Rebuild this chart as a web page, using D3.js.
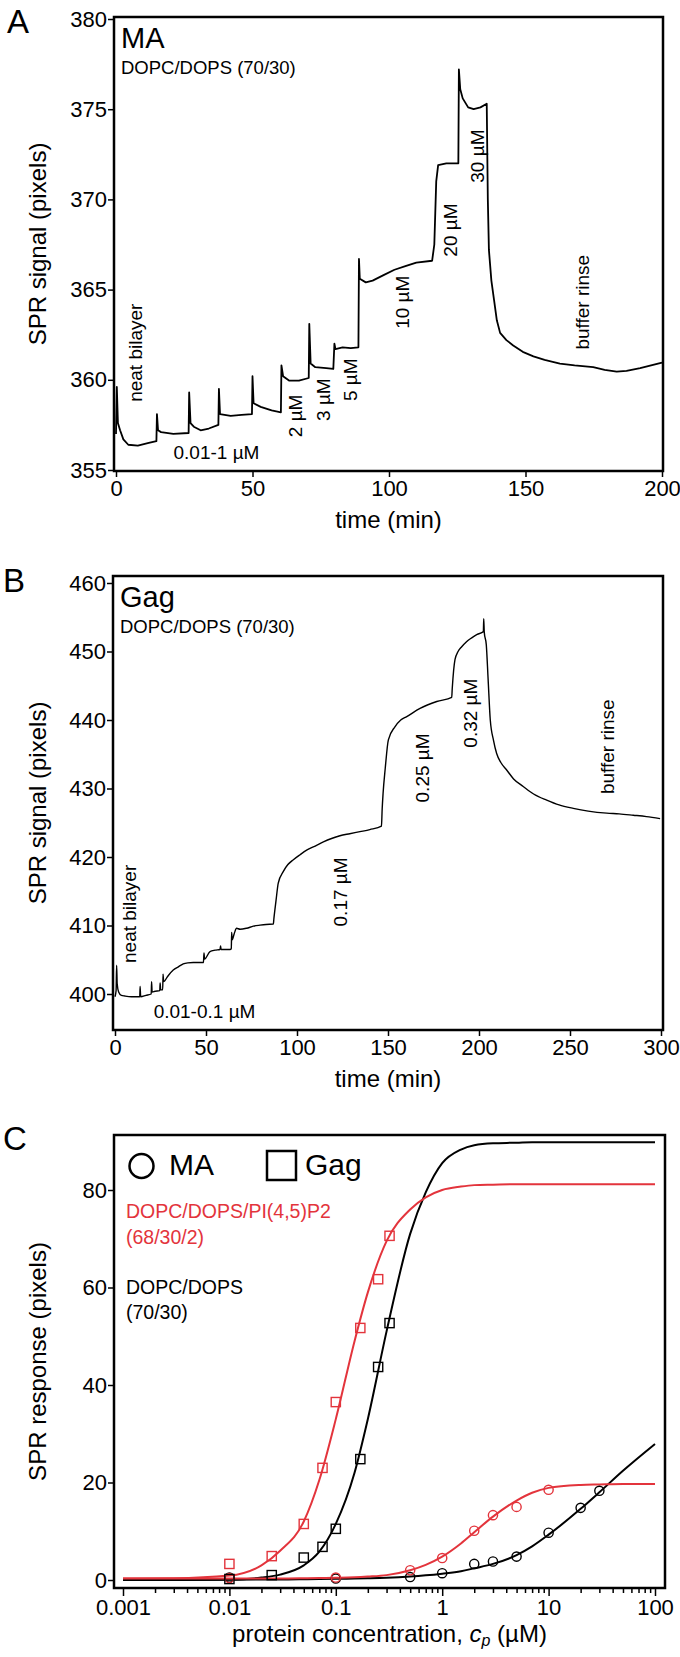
<!DOCTYPE html>
<html>
<head>
<meta charset="utf-8">
<script src="https://cdn.jsdelivr.net/npm/d3@7"></script>
<style>
    body { margin: 0; background: #fff; }
    svg { display: block; font-family: "Liberation Sans", Arial, sans-serif; }
</style>
</head>
<body>
<svg id="chart" width="680" height="1657"></svg>
<script>
// panel A: MA on DOPC/DOPS, SPR trace
const maTime = [0, 0.3, 0.7, 1.5, 2.7, 4.5, 8, 12, 14.8, 15.0, 15.4, 16.5, 21, 26.6, 26.8, 27.3, 28.5, 31, 34, 37.5,
    37.7, 38.1, 42, 46, 49.8, 50.0, 50.4, 53, 57, 60.4, 60.6, 61.2, 63.5, 67, 70.6, 70.8, 71.3, 73, 77, 79.6,
    80.0, 80.4, 83, 86, 88.8, 89.0, 89.3, 91.5, 94, 98, 102, 106, 110, 115.8, 116.6, 117.3, 118, 121, 125.4, 125.6,
    126.1, 127, 129, 131, 133.5, 135.8, 136.2, 136.6, 137.5, 138.5, 139.5, 140.7, 143, 145.5, 149, 152.9, 157, 162.6, 168, 174.8,
    179, 183.4, 187, 192, 196, 200];
const maSignal = [357.0, 359.6, 357.6, 357.2, 356.7, 356.4, 356.35, 356.5, 356.6, 358.1, 357.2, 357.1, 357.0, 357.05, 359.3, 357.6, 357.4, 357.2, 357.3, 357.5,
    359.5, 358.1, 358.0, 358.05, 358.1, 360.2, 358.7, 358.5, 358.3, 358.2, 360.8, 360.2, 359.95, 359.95, 360.1, 363.1, 360.9, 360.7, 360.65, 360.6,
    362.0, 361.7, 361.8, 361.75, 361.8, 366.7, 365.6, 365.4, 365.5, 365.8, 366.1, 366.3, 366.5, 366.6, 367.5, 371.0, 371.9, 372.0, 372.0, 377.2,
    376.1, 375.6, 375.1, 375.0, 375.1, 375.3, 370, 367.2, 365.5, 364.4, 363.3, 362.6, 362.2, 361.9, 361.55, 361.3, 361.1, 360.9, 360.8, 360.7,
    360.55, 360.45, 360.5, 360.65, 360.8, 360.95];
const maTimeTicks = [0, 50, 100, 150, 200];
const maSignalTicks = [355, 360, 365, 370, 375, 380];
const maNotes = [
    {text: 'neat bilayer', t: 7.2, v: 361.5, vertical: true},
    {text: '0.01-1 µM', t: 36.8, v: 355.6, vertical: false},
    {text: '2 µM', t: 65.6, v: 358.0, vertical: true},
    {text: '3 µM', t: 75.8, v: 358.9, vertical: true},
    {text: '5 µM', t: 85.7, v: 360.0, vertical: true},
    {text: '10 µM', t: 104.8, v: 364.3, vertical: true},
    {text: '20 µM', t: 122.3, v: 368.3, vertical: true},
    {text: '30 µM', t: 132.2, v: 372.4, vertical: true},
    {text: 'buffer rinse', t: 170.7, v: 364.3, vertical: true}
];

// panel B: Gag on DOPC/DOPS, SPR trace
const gagTime = [0, 0.6, 0.9, 1.2, 2, 3.5, 5.5, 9, 13.6, 13.8, 14.1, 17, 19.9, 20.1, 20.4, 22, 24.6, 24.8, 25.1, 26.2,
    26.4, 26.7, 29, 32, 35, 37.5, 40, 43, 48.6, 48.9, 49.2, 52.2, 55, 57.7, 58, 58.3, 63.2, 63.9, 64.1, 64.4,
    65.5, 66.8, 68.7, 72.3, 76, 79.7, 83, 87, 87.3, 88.5, 89.7, 92.5, 95, 98, 101.5, 105.3, 110, 114.5, 119, 123.6,
    129, 134.6, 140, 146.4, 146.8, 147.3, 148.5, 150.2, 153.8, 157, 160.3, 167.6, 176.8, 185, 185.3, 186.8, 188.5, 190.5, 193, 196,
    199, 202.4, 202.6, 202.9, 204, 205, 206.2, 208, 209.7, 212, 215.2, 219, 224.3, 230, 237.2, 244, 251.8, 260, 270.2, 277,
    284.8, 292, 299.5];
const gagSignal = [399.6, 400.5, 404.2, 401.5, 400.3, 399.8, 399.7, 399.6, 399.6, 401.1, 399.6, 399.8, 400.0, 401.8, 400.3, 400.4, 400.5, 401.6, 400.6, 400.6,
    402.9, 401.8, 402.6, 403.5, 404.0, 404.4, 404.55, 404.6, 404.6, 406.0, 405.1, 406.2, 406.4, 406.5, 407.0, 406.5, 406.5, 406.6, 409.0, 407.9,
    408.8, 409.6, 409.45, 409.6, 409.9, 410.05, 410.15, 410.2, 411.0, 413.7, 416.2, 417.9, 418.9, 419.6, 420.3, 421.0, 421.6, 422.2, 422.7, 423.1,
    423.4, 423.7, 424.0, 424.5, 427.0, 429.3, 433.0, 437.1, 439.0, 440.0, 440.5, 441.7, 442.7, 443.3, 444.6, 448.8, 450.0, 450.7, 451.4, 452.0,
    452.5, 452.9, 454.8, 452.8, 451.0, 446.0, 440.0, 437.0, 435.1, 433.8, 432.7, 431.4, 430.3, 429.2, 428.3, 427.6, 427.1, 426.7, 426.4, 426.3,
    426.1, 425.9, 425.6];
const gagTimeTicks = [0, 50, 100, 150, 200, 250, 300];
const gagSignalTicks = [400, 410, 420, 430, 440, 450, 460];
const gagNotes = [
    {text: 'neat bilayer', t: 7.7, v: 411.7, vertical: true},
    {text: '0.01-0.1 µM', t: 49.2, v: 396.5, vertical: false},
    {text: '0.17 µM', t: 123.6, v: 414.9, vertical: true},
    {text: '0.25 µM', t: 168.7, v: 433.0, vertical: true},
    {text: '0.32 µM', t: 195.1, v: 441.0, vertical: true},
    {text: 'buffer rinse', t: 270.3, v: 436.1, vertical: true}
];

// panel C: binding isotherms
const maConc = [0.01, 0.1, 0.5, 1, 2, 3, 5, 10, 20, 30];
const maResponsePC = [0.5, 0.3, 0.6, 1.4, 3.3, 3.8, 4.8, 9.7, 14.8, 18.3];
const maPipConc = [0.01, 0.1, 0.5, 1, 2, 3, 5, 10];
const maResponsePip = [0.4, 0.5, 2.0, 4.5, 10.1, 13.3, 15.0, 18.5];
const gagConc = [0.01, 0.025, 0.05, 0.075, 0.1, 0.17, 0.25, 0.32];
const gagResponsePC = [0.2, 1.0, 4.6, 6.8, 10.5, 24.8, 43.7, 52.7];
const gagResponsePip = [3.3, 4.9, 11.5, 23, 36.5, 51.7, 61.7, 70.6];

const fitConc = [0.001, 0.003, 0.01, 0.02, 0.03, 0.05, 0.07, 0.1, 0.15, 0.2, 0.3, 0.5, 0.7, 1, 1.5, 2, 3, 5, 7, 10, 20, 30, 50, 100];
const fitGagPC = [0, 0, 0.1, 0.5, 1.1, 3.0, 5.8, 11.5, 22, 33, 51, 71, 79.5, 85.5, 88.3, 89.2, 89.6, 89.7, 89.8, 89.8, 89.8, 89.8, 89.8, 89.8];
const fitGagPip = [0.3, 0.35, 0.9, 3.0, 6.0, 12, 20.5, 33, 49, 59, 69.5, 76, 78.5, 80, 80.7, 81, 81.1, 81.2, 81.2, 81.2, 81.2, 81.2, 81.2, 81.2];
const fitMAPC = [0, 0, 0.05, 0.1, 0.1, 0.15, 0.2, 0.25, 0.3, 0.35, 0.45, 0.7, 0.95, 1.3, 1.8, 2.4, 3.3, 5.1, 6.9, 9.3, 14.6, 18.0, 22.4, 27.9];
const fitMAPip = [0.3, 0.3, 0.3, 0.3, 0.3, 0.35, 0.4, 0.45, 0.55, 0.7, 1.0, 2.0, 3.1, 4.8, 7.5, 9.8, 13.0, 16.3, 17.9, 18.9, 19.5, 19.6, 19.7, 19.7];

const concTicks = [0.001, 0.01, 0.1, 1, 10, 100];
const concTickLabels = ['0.001', '0.01', '0.1', '1', '10', '100'];
const responseTicks = [0, 20, 40, 60, 80];

const RED = '#e3343c';
const svg = d3.select('#chart');

function styleAxis(sel, size) {
    sel.select('.domain').remove();
    sel.selectAll('.tick line').attr('stroke', '#000').attr('stroke-width', 1.5);
    sel.selectAll('.tick text').attr('fill', '#000').attr('font-size', size)
        .attr('font-family', '"Liberation Sans", Arial, sans-serif');
}

function frameRect(g, f) {
    g.append('rect')
        .attr('x', f.left).attr('y', f.top)
        .attr('width', f.right - f.left).attr('height', f.bottom - f.top)
        .attr('fill', 'none').attr('stroke', '#000').attr('stroke-width', 2.5);
}

function yTitle(g, text, x, y) {
    g.append('text').text(text)
        .attr('transform', 'translate(' + x + ',' + y + ') rotate(-90)')
        .attr('text-anchor', 'middle').attr('font-size', 24);
}

class TracePanel {
    constructor(time, signal, opts) {
        this.time = time;
        this.signal = signal;
        this.opts = opts;
    };
    draw() {
        let self = this;
        let o = self.opts;
        let f = o.frame;
        let x = d3.scaleLinear().domain(o.xDomain).range(o.xRange);
        let y = d3.scaleLinear().domain(o.yDomain).range(o.yRange);
        let g = svg.append('g');

        let xa = g.append('g').attr('transform', 'translate(0,' + f.bottom + ')')
            .call(d3.axisBottom(x).tickValues(o.xTicks).tickSize(6).tickPadding(3));
        styleAxis(xa, 22);
        let ya = g.append('g').attr('transform', 'translate(' + f.left + ',0)')
            .call(d3.axisLeft(y).tickValues(o.yTicks).tickSize(6).tickPadding(1));
        styleAxis(ya, 22);
        frameRect(g, f);

        let line = d3.line()
            .x((d, i) => x(self.time[i]))
            .y(d => y(d))
            .curve(o.curve);
        g.append('path').datum(self.signal)
            .attr('d', line)
            .attr('fill', 'none')
            .attr('stroke', '#000')
            .attr('stroke-width', o.lineWidth)
            .attr('stroke-linejoin', 'round');

        o.notes.forEach(n => {
            let t = g.append('text').text(n.text).attr('font-size', 19).attr('text-anchor', 'middle');
            if (n.vertical) {
                t.attr('transform', 'translate(' + x(n.t) + ',' + y(n.v) + ') rotate(-90)').attr('dy', '0.35em');
            } else {
                t.attr('x', x(n.t)).attr('y', y(n.v));
            }
        });

        g.append('text').text(o.letter).attr('x', o.letterPos[0]).attr('y', o.letterPos[1]).attr('font-size', 33);
        g.append('text').text(o.title).attr('x', f.left + 7).attr('y', f.top + 31).attr('font-size', 29);
        g.append('text').text('DOPC/DOPS (70/30)').attr('x', f.left + 7).attr('y', f.top + 57).attr('font-size', 18.5);
        yTitle(g, 'SPR signal (pixels)', 46, (f.top + f.bottom) / 2);
        g.append('text').text('time (min)')
            .attr('x', (f.left + f.right) / 2).attr('y', f.bottom + 57)
            .attr('text-anchor', 'middle').attr('font-size', 24);
    }
}

new TracePanel(maTime, maSignal, {
    frame: {left: 114, top: 17, right: 663, bottom: 471},
    xDomain: [0, 200], xRange: [116, 662],
    yDomain: [355, 380], yRange: [470, 19],
    xTicks: maTimeTicks, yTicks: maSignalTicks,
    curve: d3.curveLinear, lineWidth: 1.8,
    notes: maNotes, letter: 'A', letterPos: [7, 33], title: 'MA'
}).draw();

new TracePanel(gagTime, gagSignal, {
    frame: {left: 113, top: 576, right: 663, bottom: 1030},
    xDomain: [0, 300], xRange: [115, 661],
    yDomain: [400, 460], yRange: [994, 583],
    xTicks: gagTimeTicks, yTicks: gagSignalTicks,
    curve: d3.curveMonotoneX, lineWidth: 1.4,
    notes: gagNotes, letter: 'B', letterPos: [3, 592], title: 'Gag'
}).draw();

// panel C
function drawIsotherms() {
    let f = {left: 114, top: 1135, right: 665, bottom: 1588};
    let x = d3.scaleLog().domain([0.001, 100]).range([123, 655]);
    let y = d3.scaleLinear().domain([0, 80]).range([1580, 1190]);
    let g = svg.append('g');

    let minor = x.ticks().filter(v => concTicks.indexOf(v) < 0);
    let mi = g.append('g').attr('transform', 'translate(0,' + f.bottom + ')')
        .call(d3.axisBottom(x).tickValues(minor).tickSize(5).tickFormat(''));
    styleAxis(mi, 22);
    let xa = g.append('g').attr('transform', 'translate(0,' + f.bottom + ')')
        .call(d3.axisBottom(x).tickValues(concTicks).tickSize(8).tickPadding(3)
            .tickFormat((d, i) => concTickLabels[i]));
    styleAxis(xa, 22);
    let ya = g.append('g').attr('transform', 'translate(' + f.left + ',0)')
        .call(d3.axisLeft(y).tickValues(responseTicks).tickSize(6).tickPadding(1));
    styleAxis(ya, 22);
    frameRect(g, f);

    let fits = [[fitGagPC, '#000'], [fitGagPip, RED], [fitMAPC, '#000'], [fitMAPip, RED]];
    fits.forEach(fs => {
        let line = d3.line()
            .x((d, i) => x(fitConc[i]))
            .y(d => y(d))
            .curve(d3.curveMonotoneX);
        g.append('path').datum(fs[0]).attr('d', line)
            .attr('fill', 'none').attr('stroke', fs[1]).attr('stroke-width', 2);
    });

    let circles = [[maConc, maResponsePC, '#000'], [maPipConc, maResponsePip, RED]];
    circles.forEach(c => {
        g.append('g').selectAll('circle').data(c[1]).join('circle')
            .attr('cx', (d, i) => x(c[0][i])).attr('cy', d => y(d)).attr('r', 4.6)
            .attr('fill', 'none').attr('stroke', c[2]).attr('stroke-width', 1.4);
    });
    let squares = [[gagConc, gagResponsePC, '#000'], [gagConc, gagResponsePip, RED]];
    squares.forEach(s => {
        g.append('g').selectAll('rect').data(s[1]).join('rect')
            .attr('x', (d, i) => x(s[0][i]) - 4.6).attr('y', d => y(d) - 4.6)
            .attr('width', 9.2).attr('height', 9.2)
            .attr('fill', 'none').attr('stroke', s[2]).attr('stroke-width', 1.4);
    });

    // legend
    g.append('circle').attr('cx', 141.5).attr('cy', 1166).attr('r', 12)
        .attr('fill', 'none').attr('stroke', '#000').attr('stroke-width', 2.5);
    g.append('text').text('MA').attr('x', 169).attr('y', 1175).attr('font-size', 30);
    g.append('rect').attr('x', 267).attr('y', 1151).attr('width', 29).attr('height', 29)
        .attr('fill', 'none').attr('stroke', '#000').attr('stroke-width', 2.5);
    g.append('text').text('Gag').attr('x', 305).attr('y', 1175).attr('font-size', 30);

    g.append('text').text('DOPC/DOPS/PI(4,5)P2').attr('x', 126).attr('y', 1218).attr('font-size', 19.5).attr('fill', RED);
    g.append('text').text('(68/30/2)').attr('x', 126).attr('y', 1244).attr('font-size', 19.5).attr('fill', RED);
    g.append('text').text('DOPC/DOPS').attr('x', 126).attr('y', 1294).attr('font-size', 19.5);
    g.append('text').text('(70/30)').attr('x', 126).attr('y', 1319).attr('font-size', 19.5);

    g.append('text').text('C').attr('x', 3).attr('y', 1150).attr('font-size', 33);
    yTitle(g, 'SPR response (pixels)', 46, (f.top + f.bottom) / 2);

    let xt = g.append('text').attr('x', (f.left + f.right) / 2).attr('y', 1642)
        .attr('text-anchor', 'middle').attr('font-size', 24);
    xt.append('tspan').text('protein concentration, ');
    xt.append('tspan').text('c').attr('font-style', 'italic');
    xt.append('tspan').text('p').attr('font-style', 'italic').attr('font-size', 16).attr('dy', 4);
    xt.append('tspan').text(' (µM)').attr('dy', -4);
}
drawIsotherms();
</script>
</body>
</html>
